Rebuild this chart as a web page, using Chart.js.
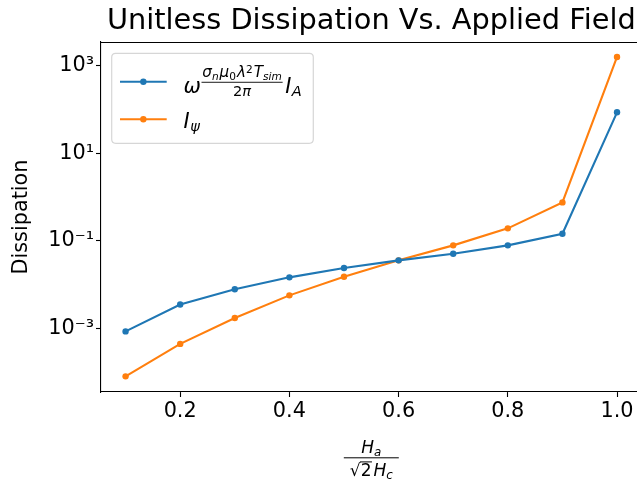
<!DOCTYPE html>
<html><head><meta charset="utf-8">
<script src="https://cdn.jsdelivr.net/npm/chart.js@4/dist/chart.umd.min.js"></script>
<style>
html,body{margin:0;padding:0;overflow:hidden;background:#fff;width:637px;height:485px}
#wrap{position:absolute;left:0;top:0;width:660px;height:485px}
</style></head>
<body><div id="wrap"><canvas id="c" width="660" height="485"></canvas></div>
<script>
// ---- data ----
const fieldRatio = [0.1, 0.2, 0.3, 0.4, 0.5, 0.6, 0.7, 0.8, 0.9, 1.0];
const dissipationA = [8.5e-4, 3.5e-3, 7.8e-3, 0.0146, 0.0238, 0.0357, 0.0505, 0.0785, 0.1445, 86];
const dissipationPsi = [8.0e-5, 4.4e-4, 1.72e-3, 5.66e-3, 0.0151, 0.0357, 0.0785, 0.192, 0.753, 1580];
const xTickValues = [0.2, 0.4, 0.6, 0.8, 1.0];
const xTickLabels = ['0.2', '0.4', '0.6', '0.8', '1.0'];
const yTickValues = [1e-3, 1e-1, 1e1, 1e3];
const yTickLabels = ['10⁻³', '10⁻¹', '10¹', '10³'];
const seriesLabels = ['ω^(σₙμ₀λ²T_sim / 2π) I_A', 'I_ψ'];
const titleText = 'Unitless Dissipation Vs. Applied Field';
const yAxisTitle = 'Dissipation';
const xAxisTitle = 'H_a / (√2 H_c)';

const FAM = '"DejaVu Sans"';
const BLUE = '#1f77b4', ORANGE = '#ff7f0e';

function it(sz){ return 'italic ' + sz + 'px ' + FAM; }
function rm(sz){ return sz + 'px ' + FAM; }
function runsWidth(ctx, runs){ let w = 0; for (const r of runs){ ctx.font = r[1]; w += ctx.measureText(r[0]).width + (r[3]||0); } return w; }
function drawRuns(ctx, x, y, runs){ for (const r of runs){ ctx.font = r[1]; ctx.fillText(r[0], x, y + (r[2]||0)); x += ctx.measureText(r[0]).width + (r[3]||0); } return x; }

const extras = {
  id: 'extras',
  afterDraw(chart){
    const ctx = chart.ctx, a = chart.chartArea;
    ctx.save();
    // top/right spines
    ctx.strokeStyle = '#000'; ctx.lineWidth = 1.1;
    ctx.beginPath(); ctx.moveTo(a.left, a.top + 0.5); ctx.lineTo(a.right, a.top + 0.5); ctx.lineTo(a.right, a.bottom); ctx.stroke();

    // legend box
    const lx = a.left + 10.7, ly = a.top + 11.3, lw = 201.6, lh = 90, r = 4;
    ctx.beginPath();
    ctx.moveTo(lx + r, ly); ctx.lineTo(lx + lw - r, ly); ctx.quadraticCurveTo(lx + lw, ly, lx + lw, ly + r);
    ctx.lineTo(lx + lw, ly + lh - r); ctx.quadraticCurveTo(lx + lw, ly + lh, lx + lw - r, ly + lh);
    ctx.lineTo(lx + r, ly + lh); ctx.quadraticCurveTo(lx, ly + lh, lx, ly + lh - r);
    ctx.lineTo(lx, ly + r); ctx.quadraticCurveTo(lx, ly, lx + r, ly); ctx.closePath();
    ctx.fillStyle = 'rgba(255,255,255,0.8)'; ctx.fill();
    ctx.strokeStyle = 'rgba(204,204,204,0.8)'; ctx.lineWidth = 1.2; ctx.stroke();

    const ds = chart.data.datasets;
    const rowsY = [a.top + 39.7, a.top + 77.3];
    const hx0 = a.left + 19, hx1 = a.left + 65.7;
    ds.forEach((d, i) => {
      ctx.strokeStyle = d.borderColor; ctx.lineWidth = 2.1;
      ctx.beginPath(); ctx.moveTo(hx0, rowsY[i]); ctx.lineTo(hx1, rowsY[i]); ctx.stroke();
      ctx.fillStyle = d.borderColor;
      ctx.beginPath(); ctx.arc((hx0 + hx1) / 2, rowsY[i], 3.2, 0, Math.PI * 2); ctx.fill();
    });

    ctx.fillStyle = '#000'; ctx.textBaseline = 'alphabetic'; ctx.textAlign = 'left';
    // row 1: omega^{frac} I_A
    const tx = a.left + 82.5;
    const b1 = a.top + 51.3;
    drawRuns(ctx, tx, b1, [['ω', it(20.8), 0]]);
    const fx = a.left + 100.5;
    const numRuns = [['σ', it(15.2)], ['n', it(10.6), 2.6, 0.9], ['μ', it(15.2)], ['0', rm(10.6), 2.6, 1.0], ['λ', it(15.2)], ['2', rm(10.6), -4.6, 1.2], ['T', it(15.2)], ['sim', it(10.6), 2.6]];
    const denRuns = [['2', rm(14.6)], ['π', it(14.6)]];
    const nw = runsWidth(ctx, numRuns), dw = runsWidth(ctx, denRuns);
    const bw = Math.max(nw, dw) + 1.5;
    drawRuns(ctx, fx + (bw - nw) / 2, a.top + 35.3, numRuns);
    ctx.fillRect(fx, a.top + 39.8, bw, 0.9);
    drawRuns(ctx, fx + (bw - dw) / 2, a.top + 53.7, denRuns);
    drawRuns(ctx, fx + bw + 2.5, b1, [['I', it(20.8), 0, 0.5], ['A', it(14.6), 2.4]]);
    // row 2: I_psi
    drawRuns(ctx, tx, a.top + 86.3, [['I', it(20.8), 0, 0.5], ['ψ', it(14.6), 2.4]]);

    // x axis label: H_a / (sqrt2 H_c)
    const cx = (a.left + a.right) / 2;
    const xn = [['H', it(17)], ['a', it(11.9), 2.8]];
    const xnw = runsWidth(ctx, xn);
    drawRuns(ctx, cx - xnw / 2, a.bottom + 61.3, xn);
    ctx.fillRect(cx - 27.5, a.bottom + 65.3, 55, 1);
    const rad = [['√', rm(17)]], two = [['2', rm(17), 0, 2]], hc = [['H', it(17)], ['c', it(11.9), 2.8]];
    const rw = runsWidth(ctx, rad), tw = runsWidth(ctx, two), hw = runsWidth(ctx, hc);
    const dtot = rw + tw + hw;
    const db = a.bottom + 84.4;
    let dx = cx - dtot / 2;
    dx = drawRuns(ctx, dx, db, rad);
    const ovStart = dx - 0.7;
    dx = drawRuns(ctx, dx, db, two);
    ctx.fillRect(ovStart, db - 15.0, dx - ovStart - 1.5, 1);
    drawRuns(ctx, dx, db, hc);
    ctx.restore();
  }
};

const chart = new Chart(document.getElementById('c'), {
  type: 'line',
  data: {
    datasets: [
      { label: seriesLabels[0], data: fieldRatio.map((v, i) => ({x: v, y: dissipationA[i]})),
        borderColor: BLUE, backgroundColor: BLUE, pointBackgroundColor: BLUE, borderWidth: 2.1,
        pointRadius: 3.2, pointBorderWidth: 0, tension: 0, fill: false },
      { label: seriesLabels[1], data: fieldRatio.map((v, i) => ({x: v, y: dissipationPsi[i]})),
        borderColor: ORANGE, backgroundColor: ORANGE, pointBackgroundColor: ORANGE, borderWidth: 2.1,
        pointRadius: 3.2, pointBorderWidth: 0, tension: 0, fill: false }
    ]
  },
  options: {
    responsive: false, animation: false, devicePixelRatio: 1,
    layout: { padding: { left: 0, right: 18.4, top: 0, bottom: 0 } },
    plugins: {
      legend: { display: false },
      tooltip: { enabled: false },
      title: { display: true, text: titleText, fullSize: false, color: '#000',
        font: { family: 'DejaVu Sans', size: 28.8, weight: 'normal', lineHeight: 1.2 },
        padding: { top: 4.0, bottom: 3.44 } }
    },
    scales: {
      x: {
        type: 'linear', min: 0.055, max: 1.045,
        afterBuildTicks: s => { s.ticks = xTickValues.map(v => ({value: v})); },
        afterFit: s => { s.height = 93; },
        ticks: { color: '#000', padding: 2, maxRotation: 0, autoSkip: false,
          font: { family: 'DejaVu Sans', size: 20.8 },
          callback: v => xTickLabels[xTickValues.findIndex(t => Math.abs(t - v) < 1e-9)] },
        grid: { display: true, drawOnChartArea: false, drawTicks: true, tickLength: 5, tickColor: '#000', tickWidth: 1.1 },
        border: { display: true, color: '#000', width: 1.1 },
        title: { display: false, text: xAxisTitle }
      },
      y: {
        type: 'logarithmic', min: Math.pow(10, -4.455), max: Math.pow(10, 3.541),
        afterBuildTicks: s => { s.ticks = yTickValues.map(v => ({value: v, major: true})); },
        afterFit: s => { s.width = 101; },
        ticks: { color: '#000', padding: 2, autoSkip: false,
          font: { family: 'DejaVu Sans', size: 20.8 },
          callback: v => yTickLabels[yTickValues.findIndex(t => Math.abs(Math.log10(t) - Math.log10(v)) < 1e-6)] },
        grid: { display: true, drawOnChartArea: false, drawTicks: true, tickLength: 5, tickColor: '#000', tickWidth: 1.1 },
        border: { display: true, color: '#000', width: 1.1 },
        title: { display: true, text: yAxisTitle, color: '#000',
          font: { family: 'DejaVu Sans', size: 20.8, lineHeight: 1.2 }, padding: { top: 8.8, bottom: 0 } }
      }
    }
  },
  plugins: [extras]
});
</script>
</body></html>
